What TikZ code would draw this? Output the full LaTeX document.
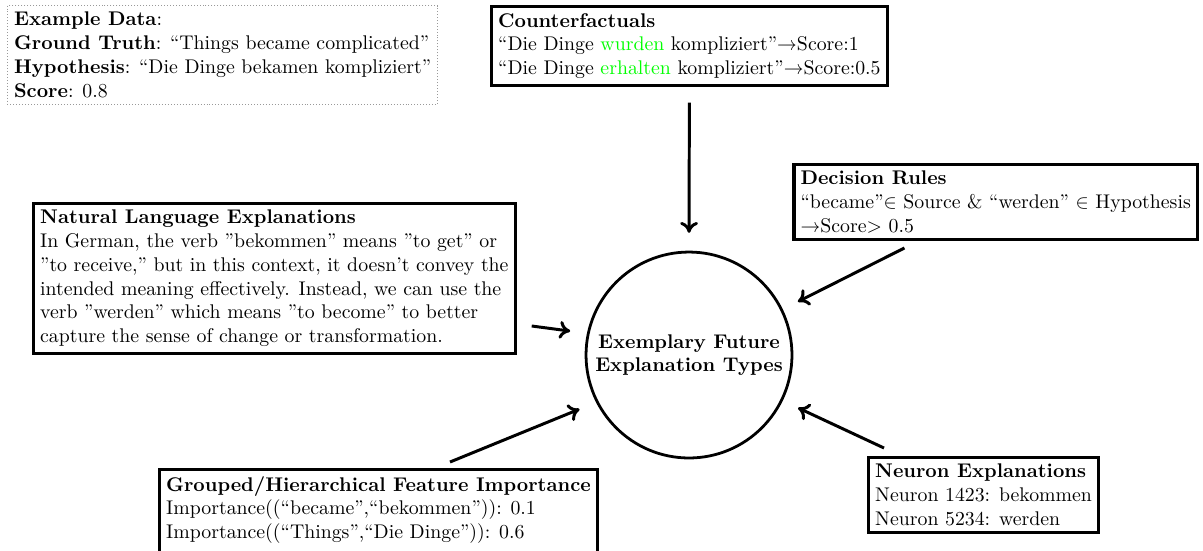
\documentclass[tikz,border=0pt]{standalone}
\usetikzlibrary{arrows.meta,calc}
\begin{document}
\begin{tikzpicture}[x=0.505pt,y=-0.505pt,
  box/.style={draw, line width=1.6pt, align=left, inner sep=3.33pt},
  exbox/.style={draw=gray!80, densely dotted, line width=0.5pt, align=left, inner sep=3.33pt},
  hub/.style={draw, circle, line width=1.4pt, minimum size=104pt, inner sep=0pt, align=center, font=\bfseries},
  arr/.style={line width=1.5pt, -{Computer Modern Rightarrow[length=5.5pt,width=9pt]}},
]
\useasboundingbox (0,0) rectangle (1203,550);

\node[exbox, anchor=north west] (ex) at (7,5)
  {\textbf{Example Data}:\\
   \textbf{Ground Truth}: ``Things became complicated''\\
   \textbf{Hypothesis}: ``Die Dinge bekamen kompliziert''\\
   \textbf{Score}: 0.8};

\node[box, anchor=north west] (cf) at (490,5)
  {\textbf{Counterfactuals}\\
   ``Die Dinge \textcolor{green}{wurden} kompliziert''\textrightarrow Score:1\\
   ``Die Dinge \textcolor{green}{erhalten} kompliziert''\textrightarrow Score:0.5};

\node[box, anchor=south east] (dr) at (1199,241)
  {\textbf{Decision Rules}\\
   ``became''$\in$ Source \& ``werden'' $\in$ Hypothesis\\
   \textrightarrow Score$>$ 0.5};

\node[box, anchor=north west] (nle) at (32,202)
  {\textbf{Natural Language Explanations}\\
   In German, the verb ''bekommen'' means ''to get'' or\\
   ''to receive,'' but in this context, it doesn't convey the\\
   intended meaning effectively. Instead, we can use the\\
   verb ''werden'' which means ''to become'' to better\\
   capture the sense of change or transformation.};

\node[box, anchor=north west] (grp) at (158,468)
  {\textbf{Grouped/Hierarchical Feature Importance}\\
   Importance((``became'',``bekommen'')): 0.1\\
   Importance((``Things'',``Die Dinge'')): 0.6\rule[-6pt]{0pt}{6pt}};

\node[box, anchor=north west] (neu) at (867,456)
  {\textbf{Neuron Explanations}\\
   Neuron 1423: bekommen\\
   Neuron 5234: werden};

\node[hub] (circ) at (689,355) {Exemplary Future\\Explanation Types};

\draw[arr, shorten <=8pt, shorten >=9pt] (cf.south) -- (circ.north);
\draw[arr, shorten >=8.5pt] ($(dr.south west)+(112,7)$) -- (circ.26);
\draw[arr, shorten >=8.5pt] ($(nle.south east)+(15,-29)$) -- (circ.168);
\draw[arr, shorten >=9pt] ($(grp.north west)+(292,-6)$) -- (circ.207);
\draw[arr, shorten >=8.5pt] ($(neu.north west)+(17,-8)$) -- (circ.-26);
\end{tikzpicture}
\end{document}
